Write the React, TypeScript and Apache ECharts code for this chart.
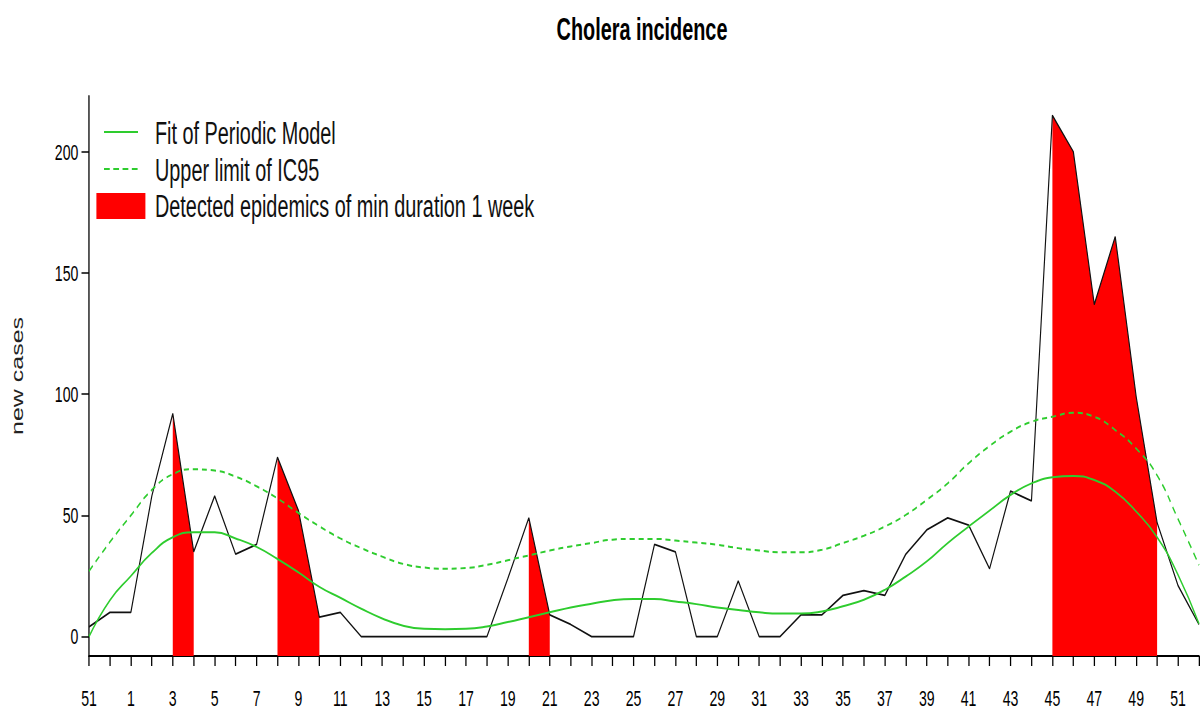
import React, { useEffect, useRef } from "react";
import * as echarts from "echarts";

// horizontal compression of the whole picture (the reference is a squeezed image)
const K = 0.64;
const W = 1204;
const H = 713;
const sx = (v: number) => v / K;

const FONT = "'Liberation Sans', Arial, Helvetica, sans-serif";

const weeks = [
  "51", "52", "1", "2", "3", "4", "5", "6", "7", "8", "9", "10", "11", "12", "13", "14",
  "15", "16", "17", "18", "19", "20", "21", "22", "23", "24", "25", "26", "27", "28", "29",
  "30", "31", "32", "33", "34", "35", "36", "37", "38", "39", "40", "41", "42", "43", "44",
  "45", "46", "47", "48", "49", "50", "51", "52",
];

const observed = [
  4, 10, 10, 58, 92, 35, 58, 34, 38, 74, 52, 8, 10, 0, 0, 0,
  0, 0, 0, 0, 24, 49, 9, 5, 0, 0, 0, 38, 35, 0, 0,
  23, 0, 0, 9, 9, 17, 19, 17, 34, 44, 49, 46, 28, 60, 56,
  215, 200, 137, 165, 99, 47, 21, 5,
];

const periodicFit = [
  0, 15, 25, 34.5, 41, 43, 43, 40.5, 37, 32, 26.5, 20.5, 16, 11.5, 7.5, 4.5,
  3.2, 3, 3.2, 4.2, 6, 8, 10, 12, 13.6, 15, 15.5, 15.5, 14.5, 13.4, 12,
  11, 10, 9.5, 9.5, 10.4, 12.5, 15.2, 19.3, 24.8, 31, 38.6, 45.4, 52, 58.4, 63.2,
  65.7, 66.3, 64.6, 59.8, 51.6, 41, 25.5, 5.3,
];

const upperIC95 = [
  27, 39, 50, 60.5, 67, 69, 68.5, 66, 62, 57, 51, 45.5, 40.5, 36.5, 33, 30,
  28.5, 28, 28.3, 29.6, 31.5, 33.5, 35.5, 37.2, 38.6, 40, 40.3, 40.3, 39.6, 38.8, 37.9,
  36.5, 35.5, 34.8, 34.8, 35.8, 38.6, 41.6, 45.4, 50.2, 56.4, 63.2, 71.5, 78.6, 84.5, 88.6,
  90.7, 92.3, 90.7, 85.2, 77.6, 66.5, 48.5, 29.5,
];

// 1 = week inside a detected epidemic
const epidemic = [
  0, 0, 0, 0, 1, 1, 0, 0, 0, 1, 1, 1, 0, 0, 0, 0,
  0, 0, 0, 0, 0, 1, 1, 0, 0, 0, 0, 0, 0, 0, 0,
  0, 0, 0, 0, 0, 0, 0, 0, 0, 0, 0, 0, 0, 0, 0,
  1, 1, 1, 1, 1, 1, 0, 0,
];

const yTicks = [0, 50, 100, 150, 200];

const legendLabels = [
  "Fit of Periodic Model",
  "Upper limit of IC95",
  "Detected epidemics of min duration 1 week",
];

const GREEN = "#2ecc2e";
const RED = "#ff0000";

export default function App() {
  const ref = useRef<HTMLDivElement>(null);

  useEffect(() => {
    document.body.style.margin = "0";
    document.body.style.overflow = "hidden";
    const chart = echarts.init(ref.current!, null, {
      renderer: "svg",
      width: W / K,
      height: H,
    });

    const epiData = observed.map((v, i) => (epidemic[i] ? v : null));

    const option: any = {
      animation: false,
      backgroundColor: "#ffffff",
      grid: {
        left: sx(89),
        right: sx(5),
        top: 96,
        bottom: H - 656,
        containLabel: false,
      },
      xAxis: {
        type: "category",
        data: weeks,
        boundaryGap: false,
        axisLine: { show: true, onZero: false, lineStyle: { color: "#000", width: 2 } },
        axisTick: {
          show: true,
          interval: 0,
          length: 10,
          lineStyle: { color: "#000", width: 2 },
        },
        axisLabel: {
          interval: 1,
          margin: 31,
          fontSize: 22,
          fontFamily: FONT,
          color: "#000",
          hideOverlap: false,
        },
        splitLine: { show: false },
      },
      yAxis: {
        type: "value",
        min: -8,
        max: 223,
        name: "new cases",
        nameLocation: "middle",
        nameRotate: 90,
        nameGap: 100,
        nameTextStyle: { fontSize: 25, fontFamily: FONT, color: "#222" },
        axisLine: { show: true, lineStyle: { color: "#000", width: 2 } },
        axisTick: {
          show: true,
          length: sx(7.5),
          customValues: yTicks,
          lineStyle: { color: "#000", width: 1.5 },
        },
        axisLabel: {
          customValues: yTicks,
          margin: sx(10.7),
          fontSize: 22,
          fontFamily: FONT,
          color: "#000",
        },
        splitLine: { show: false },
      },
      graphic: [
        {
          type: "text",
          x: sx(642),
          y: 29,
          style: {
            text: "Cholera incidence",
            fontSize: 31,
            fontWeight: "bold",
            fontFamily: FONT,
            fill: "#000",
            align: "center",
            verticalAlign: "middle",
          },
        },
        {
          type: "line",
          shape: { x1: sx(104), y1: 132, x2: sx(138), y2: 132 },
          style: { stroke: GREEN, lineWidth: 2 },
        },
        {
          type: "text",
          x: sx(155),
          y: 133,
          style: {
            text: legendLabels[0],
            fontSize: 31,
            fontFamily: FONT,
            fill: "#111",
            verticalAlign: "middle",
          },
        },
        {
          type: "line",
          shape: { x1: sx(104), y1: 169, x2: sx(138), y2: 169 },
          style: { stroke: GREEN, lineWidth: 2, lineDash: [9, 5.5] },
        },
        {
          type: "text",
          x: sx(155),
          y: 170,
          style: {
            text: legendLabels[1],
            fontSize: 31,
            fontFamily: FONT,
            fill: "#111",
            verticalAlign: "middle",
          },
        },
        {
          type: "rect",
          shape: { x: sx(96.4), y: 193, width: sx(49), height: 26 },
          style: { fill: RED },
        },
        {
          type: "text",
          x: sx(155),
          y: 206,
          style: {
            text: legendLabels[2],
            fontSize: 31,
            fontFamily: FONT,
            fill: "#111",
            verticalAlign: "middle",
          },
        },
      ],
      series: [
        {
          name: legendLabels[2],
          type: "line",
          data: epiData,
          symbol: "none",
          connectNulls: false,
          lineStyle: { width: 0, color: RED },
          itemStyle: { color: RED },
          areaStyle: { color: RED, opacity: 1, origin: "start" },
          z: 1,
        },
        {
          name: "Observed cases",
          type: "line",
          data: observed,
          symbol: "none",
          lineStyle: { color: "#111", width: 1.8 },
          itemStyle: { color: "#111" },
          z: 3,
        },
        {
          name: legendLabels[0],
          type: "line",
          data: periodicFit,
          symbol: "none",
          smooth: true,
          lineStyle: { color: GREEN, width: 2 },
          itemStyle: { color: GREEN },
          z: 4,
        },
        {
          name: legendLabels[1],
          type: "line",
          data: upperIC95,
          symbol: "none",
          smooth: true,
          lineStyle: { color: GREEN, width: 2, type: [8, 6] },
          itemStyle: { color: GREEN },
          z: 4,
        },
      ],
    };

    chart.setOption(option);
    return () => chart.dispose();
  }, []);

  return (
    <div
      ref={ref}
      style={{
        position: "absolute",
        left: 0,
        top: 0,
        width: W / K,
        height: H,
        transform: `scaleX(${K})`,
        transformOrigin: "0 0",
        background: "#fff",
      }}
    />
  );
}
